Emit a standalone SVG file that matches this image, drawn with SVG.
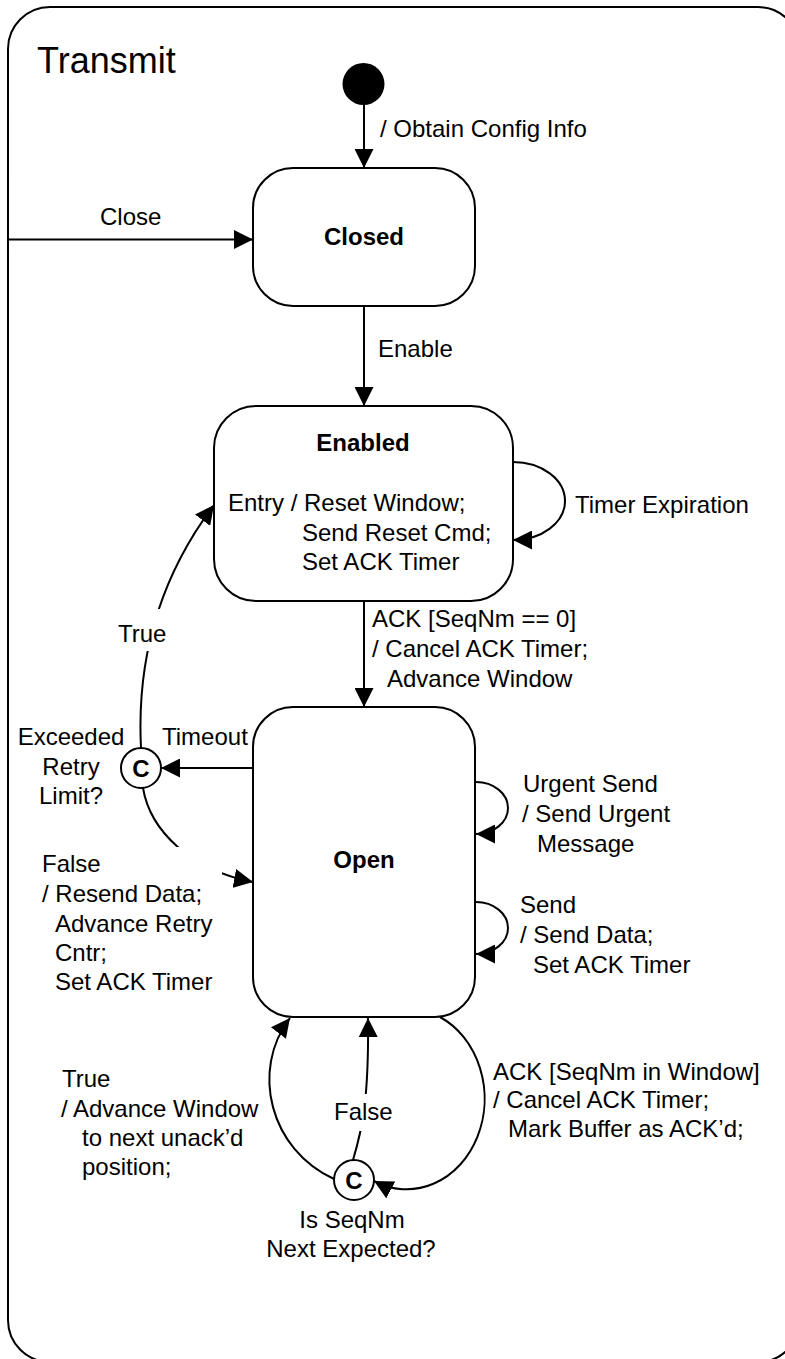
<svg xmlns="http://www.w3.org/2000/svg" width="785" height="1359" viewBox="0 0 785 1359">
  <defs>
    <marker id="arrow" markerUnits="userSpaceOnUse" markerWidth="19" markerHeight="19" viewBox="0 0 19 19" refX="19" refY="9.5" orient="auto">
      <path d="M0,0 L19,9.5 L0,19 Z" fill="#000"/>
    </marker>
    <style>
      .frame { fill: #fff; stroke: #000; stroke-width: 2; }
      .state { fill: #fff; stroke: #000; stroke-width: 2; }
      .choice { fill: #fff; stroke: #000; stroke-width: 2; }
      .edge { fill: none; stroke: #000; stroke-width: 2; marker-end: url(#arrow); }
      .bg { fill: #fff; stroke: none; }
      text { font-family: "Liberation Sans", Arial, sans-serif; font-size: 24px; fill: #000; }
      .title { font-size: 36px; }
      .name { font-weight: bold; text-anchor: middle; }
      .mid { text-anchor: middle; }
    </style>
  </defs>

  <!-- composite state -->
  <g id="transmit">
    <rect class="frame" x="8" y="7" width="792" height="1355" rx="42" ry="42"/>
    <text class="title" x="37" y="73">Transmit</text>
  </g>

  <!-- transitions -->
  <g id="connectors">
    <path class="edge" d="M364,105 L364,168"/>
    <path class="edge" d="M8,239.5 L253,239.5"/>
    <path class="edge" d="M364,306 L364,406"/>
    <path class="edge" d="M513,462 A52,39 0 0 1 513,540"/>
    <path class="edge" d="M364,601 L364,707"/>
    <path class="edge" d="M253,768 L161,768"/>
    <path class="edge" d="M141,748 C136,650 165,570 214,505"/>
    <path class="edge" d="M143,788 C150,830 190,870 253,882"/>
    <path class="edge" d="M476,782 A32,26 0 0 1 476,834"/>
    <path class="edge" d="M476,902 A32,26 0 0 1 476,954"/>
    <path class="edge" d="M440,1017 A78,90.5 0 0 1 374,1181"/>
    <path class="edge" d="M353,1160 C362,1130 369,1100 368,1018"/>
    <path class="edge" d="M334,1179 C270,1150 250,1070 290,1018"/>
  </g>

  <!-- states -->
  <g id="initial">
    <circle cx="363.5" cy="84" r="21" fill="#000"/>
  </g>
  <g id="closed">
    <rect class="state" x="253" y="168" width="222" height="138" rx="40" ry="40"/>
    <text class="name" x="364" y="245">Closed</text>
  </g>
  <g id="enabled">
    <rect class="state" x="214" y="406" width="299" height="195" rx="42" ry="42"/>
    <text class="name" x="363" y="451">Enabled</text>
    <text x="228" y="511">Entry / Reset Window;</text>
    <text x="302" y="541">Send Reset Cmd;</text>
    <text x="302" y="570">Set ACK Timer</text>
  </g>
  <g id="open">
    <rect class="state" x="253" y="707" width="222" height="310" rx="40" ry="40"/>
    <text class="name" x="364" y="868">Open</text>
  </g>
  <g id="retry-choice">
    <circle class="choice" cx="141" cy="768" r="20"/>
    <text class="name" x="141" y="777">C</text>
  </g>
  <g id="seq-choice">
    <circle class="choice" cx="354" cy="1180" r="20"/>
    <text class="name" x="354" y="1189">C</text>
  </g>

  <!-- transition labels -->
  <g id="labels">
    <text x="380" y="137">/ Obtain Config Info</text>
    <text x="100" y="225">Close</text>
    <text x="378" y="357">Enable</text>
    <text x="575" y="513">Timer Expiration</text>
    <text x="372" y="627">ACK [SeqNm == 0]</text>
    <text x="372" y="657">/ Cancel ACK Timer;</text>
    <text x="387" y="687">Advance Window</text>

    <rect class="bg" x="114" y="609" width="57" height="42"/>
    <text x="118" y="642">True</text>

    <text class="mid" x="71" y="745">Exceeded</text>
    <text class="mid" x="71" y="775">Retry</text>
    <text class="mid" x="71" y="804">Limit?</text>
    <text x="162" y="745">Timeout</text>

    <rect class="bg" x="38" y="847" width="184" height="151"/>
    <text x="42" y="872">False</text>
    <text x="42" y="902">/ Resend Data;</text>
    <text x="55" y="932">Advance Retry</text>
    <text x="55" y="961">Cntr;</text>
    <text x="55" y="990">Set ACK Timer</text>

    <text x="523" y="792">Urgent Send</text>
    <text x="522" y="822">/ Send Urgent</text>
    <text x="537" y="852">Message</text>

    <text x="520" y="913">Send</text>
    <text x="520" y="943">/ Send Data;</text>
    <text x="533" y="973">Set ACK Timer</text>

    <text x="62" y="1087">True</text>
    <text x="61" y="1117">/ Advance Window</text>
    <text x="82" y="1146">to next unack’d</text>
    <text x="82" y="1175">position;</text>

    <rect class="bg" x="331" y="1094" width="65" height="37"/>
    <text x="334" y="1120">False</text>

    <text x="493" y="1080">ACK [SeqNm in Window]</text>
    <text x="493" y="1108">/ Cancel ACK Timer;</text>
    <text x="508" y="1137">Mark Buffer as ACK’d;</text>

    <text class="mid" x="352" y="1228">Is SeqNm</text>
    <text class="mid" x="351" y="1257">Next Expected?</text>
  </g>
</svg>
